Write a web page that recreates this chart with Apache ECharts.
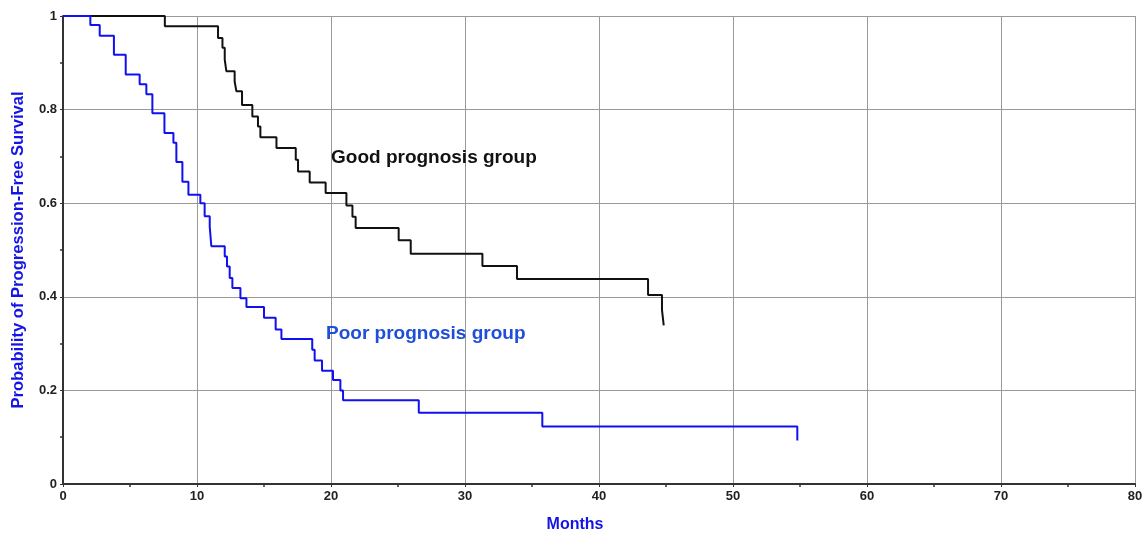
<!DOCTYPE html>
<html>
<head>
<meta charset="utf-8">
<script src="https://cdn.jsdelivr.net/npm/echarts@6/dist/echarts.min.js"></script>
<style>
html,body{margin:0;padding:0;background:#fff;}
#chart{width:1145px;height:533px;}
</style>
</head>
<body>
<div id="chart"></div>
<script>
// Kaplan-Meier step data (months, survival probability)
const goodTimes = [0, 7.6, 11.57, 11.9, 12.07, 12.19, 12.81, 12.94, 13.36, 14.13, 14.55, 14.73, 15.93, 17.37, 17.54, 18.41, 19.6, 21.15, 21.6, 21.84, 25.05, 25.95, 31.3, 33.88, 43.66, 44.7, 44.83];
const goodSurv  = [1, 0.978, 0.953, 0.932, 0.907, 0.882, 0.860, 0.839, 0.810, 0.785, 0.764, 0.741, 0.718, 0.693, 0.668, 0.644, 0.622, 0.595, 0.571, 0.547, 0.521, 0.492, 0.466, 0.438, 0.404, 0.372, 0.339];

const poorTimes = [0, 2.04, 2.74, 3.8, 4.68, 5.72, 6.22, 6.67, 7.57, 8.24, 8.46, 8.91, 9.36, 10.25, 10.57, 10.95, 11.07, 12.07, 12.24, 12.44, 12.64, 13.24, 13.69, 15.0, 15.87, 16.3, 18.6, 18.78, 19.33, 20.15, 20.7, 20.9, 26.55, 35.77, 54.8];
const poorSurv  = [1, 0.981, 0.958, 0.917, 0.875, 0.854, 0.833, 0.792, 0.750, 0.729, 0.688, 0.646, 0.618, 0.600, 0.572, 0.550, 0.508, 0.486, 0.465, 0.440, 0.419, 0.397, 0.378, 0.355, 0.330, 0.310, 0.287, 0.264, 0.242, 0.222, 0.200, 0.179, 0.152, 0.123, 0.093];

const seriesNames = ['Good prognosis group', 'Poor prognosis group'];
const xTitle = 'Months';
const yTitle = 'Probability of Progression-Free Survival';

const pairs = (xs, ys) => xs.map((x, i) => [x, ys[i]]);

const chart = echarts.init(document.getElementById('chart'), null, {renderer: 'canvas'});
const labelFont = '"Liberation Sans", Arial, sans-serif';
const tickFont = '"Liberation Sans Narrow", "Arial Narrow", "Liberation Sans", sans-serif';
chart.setOption({
  backgroundColor: '#ffffff',
  animation: false,
  grid: {left: 63, right: 10, top: 16, bottom: 49, outerBoundsMode: 'none', containLabel: false},
  xAxis: {
    type: 'value', min: 0, max: 80, interval: 10,
    name: xTitle, nameLocation: 'middle', nameGap: 33,
    nameTextStyle: {color: '#1414e6', fontWeight: 'bold', fontSize: 16, fontFamily: labelFont, padding: [0, 48, 0, 0]},
    axisLine: {show: true, lineStyle: {color: '#333', width: 2}},
    axisTick: {show: true, length: 3, lineStyle: {color: '#333'}},
    minorTick: {show: true, splitNumber: 2, length: 3, lineStyle: {color: '#333', width: 1.5}},
    axisLabel: {color: '#222', fontWeight: 'bold', fontSize: 13, fontFamily: tickFont, margin: 6},
    splitLine: {show: true, lineStyle: {color: '#999', width: 1}}
  },
  yAxis: {
    type: 'value', min: 0, max: 1, interval: 0.2,
    name: yTitle, nameLocation: 'middle', nameGap: 36,
    nameTextStyle: {color: '#1414e6', fontWeight: 'bold', fontSize: 16.6, fontFamily: labelFont},
    axisLine: {show: true, lineStyle: {color: '#333', width: 2}},
    axisTick: {show: true, length: 3, lineStyle: {color: '#333'}},
    minorTick: {show: true, splitNumber: 2, length: 3, lineStyle: {color: '#333', width: 1.5}},
    axisLabel: {color: '#222', fontWeight: 'bold', fontSize: 13, fontFamily: tickFont, margin: 6},
    splitLine: {show: true, lineStyle: {color: '#999', width: 1}}
  },
  series: [
    {
      name: seriesNames[0], type: 'line', step: 'end', showSymbol: false,
      data: pairs(goodTimes, goodSurv),
      lineStyle: {color: '#111', width: 2},
      z: 3
    },
    {
      name: seriesNames[1], type: 'line', step: 'end', showSymbol: false,
      data: pairs(poorTimes, poorSurv),
      lineStyle: {color: '#1010f0', width: 2},
      z: 3
    }
  ],
  graphic: [
    {type: 'text', x: 331, y: 158, z: 10,
     style: {text: seriesNames[0], fill: '#111', font: 'bold 19px ' + labelFont, verticalAlign: 'middle'}},
    {type: 'text', x: 326, y: 334, z: 10,
     style: {text: seriesNames[1], fill: '#1f4fd8', font: 'bold 19px ' + labelFont, verticalAlign: 'middle'}}
  ]
});
</script>
</body>
</html>
